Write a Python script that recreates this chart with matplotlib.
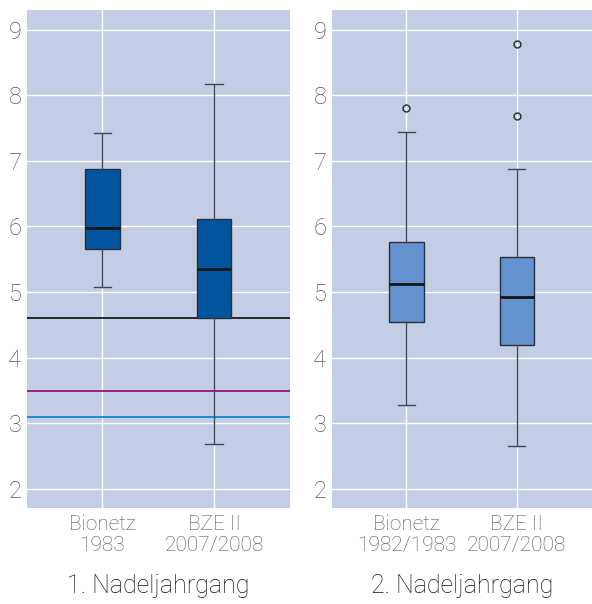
import matplotlib.pyplot as plt

plt.rcParams['font.family'] = ['Roboto', 'DejaVu Sans']

# box stats (Nadeljahrgang 1 and 2)
labels_1 = ["Bionetz\n1983", "BZE II\n2007/2008"]
labels_2 = ["Bionetz\n1982/1983", "BZE II\n2007/2008"]

whislo_1 = [5.08, 2.68]
q1_1 = [5.66, 4.60]
med_1 = [5.98, 5.35]
q3_1 = [6.87, 6.11]
whishi_1 = [7.43, 8.17]
fliers_1 = [[], []]

whislo_2 = [3.28, 2.66]
q1_2 = [4.54, 4.20]
med_2 = [5.13, 4.93]
q3_2 = [5.76, 5.53]
whishi_2 = [7.44, 6.87]
fliers_2 = [[7.81], [8.78, 7.69]]

# reference lines in panel 1
ref_values = [4.6, 3.5, 3.1]
ref_colors = ["#1a1a1a", "#8e1a78", "#0a8ad0"]

titles = ["1. Nadeljahrgang", "2. Nadeljahrgang"]

bg = "#c3cee6"
txt = "#555555"

fig = plt.figure(figsize=(5.92, 6.04), dpi=100)
ax1 = fig.add_axes([0.0456, 0.159, 0.444, 0.8245])
ax2 = fig.add_axes([0.5608, 0.159, 0.439, 0.8245])


def make_stats(lo, a, m, b, hi, fl):
    out = []
    for i in range(len(lo)):
        out.append(dict(whislo=lo[i], q1=a[i], med=m[i], q3=b[i],
                        whishi=hi[i], fliers=fl[i]))
    return out


panels = [
    (ax1, make_stats(whislo_1, q1_1, med_1, q3_1, whishi_1, fliers_1), labels_1, "#00559e"),
    (ax2, make_stats(whislo_2, q1_2, med_2, q3_2, whishi_2, fliers_2), labels_2, "#6492cf"),
]

for k, (ax, stats, labs, col) in enumerate(panels):
    ax.set_facecolor(bg)
    for s in ax.spines.values():
        s.set_visible(False)
    ax.set_axisbelow(True)
    ax.grid(True, color="white", linewidth=1.0)
    ax.bxp(stats, positions=[1, 2], widths=0.31, patch_artist=True,
           boxprops=dict(facecolor=col, edgecolor="#2a2f3a", linewidth=1.0),
           medianprops=dict(color="#151515", linewidth=2.0),
           whiskerprops=dict(color="#45474d", linewidth=1.0),
           capprops=dict(color="#45474d", linewidth=1.0),
           flierprops=dict(marker="o", markersize=5, markerfacecolor="none",
                           markeredgecolor="#2a2a2a", markeredgewidth=1.0))
    ax.set_xlim(0.325, 2.68)
    ax.set_ylim(1.71, 9.30)
    ax.set_yticks([2, 3, 4, 5, 6, 7, 8, 9])
    ax.set_xticks([1, 2])
    ax.set_xticklabels(labs, fontsize=15, color=txt, linespacing=1.12)
    ax.tick_params(axis="y", length=0, pad=4, labelsize=17, labelcolor=txt)
    ax.tick_params(axis="x", length=0, pad=5)
    ax.set_xlabel(titles[k], fontsize=18, color="#111111", labelpad=14,
                  fontweight="light")
    for t in ax.get_xticklabels() + ax.get_yticklabels():
        t.set_fontweight("light")

for v, c in zip(ref_values, ref_colors):
    ax1.axhline(v, color=c, linewidth=1.3, zorder=1.5)

fig.savefig("out.png", dpi=100)
